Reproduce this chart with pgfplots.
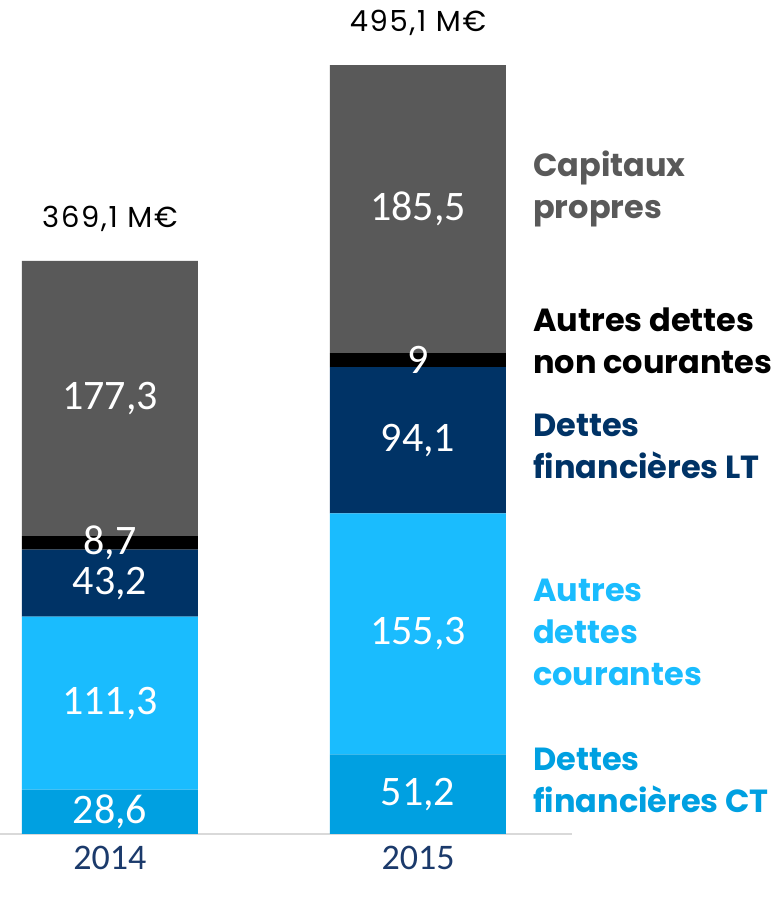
\documentclass[border=0pt]{standalone}
\usepackage{pgfplots}
\pgfplotsset{compat=1.18}
\usepackage{fontspec}
\setmainfont{Carlito}
\newfontfamily\gothic{Poppins}
\newfontfamily\gothicwide{Poppins}[LetterSpace=6]

\definecolor{ctblue}{HTML}{00A0E1}
\definecolor{acblue}{HTML}{1ABCFE}
\definecolor{ltnavy}{HTML}{003366}
\definecolor{capgray}{HTML}{595959}
\definecolor{axgray}{HTML}{D9D9D9}
\definecolor{yearblue}{HTML}{1B3A6B}

\tikzset{
    num/.style={text=white, font=\fontsize{42}{42}\selectfont, anchor=center},
    tot/.style={font=\gothicwide\fontsize{29}{29}\selectfont, anchor=center, yshift=42pt},
}

\begin{document}
\begin{tikzpicture}
\begin{axis}[
    ybar stacked, bar width=176pt,
    scale only axis, width=572pt, height=834pt,
    xmin=-0.357, xmax=1.5, ymin=0, ymax=537,
    axis x line=bottom, axis y line=none,
    x axis line style={draw=axgray, line width=2pt, -},
    xtick={0,1}, xticklabels={2014,2015}, major tick length=0pt,
    xticklabel style={font=\fontsize{36}{36}\selectfont, text=yearblue, yshift=-9pt},
    clip=false,
]
\addplot[fill=ctblue, draw=none] coordinates {(0,28.6) (1,51.2)};
\addplot[fill=acblue, draw=none] coordinates {(0,111.3) (1,155.3)};
\addplot[fill=ltnavy, draw=none] coordinates {(0,43.2) (1,94.1)};
\addplot[fill=black, draw=none] coordinates {(0,8.7) (1,9)};
\addplot[fill=capgray, draw=none] coordinates {(0,177.3) (1,185.5)};

% centres of the segments and tops of the bars
\coordinate (a1) at (axis cs:0,14.3);
\coordinate (a2) at (axis cs:0,84.25);
\coordinate (a3) at (axis cs:0,161.5);
\coordinate (a4) at (axis cs:0,187.45);
\coordinate (a5) at (axis cs:0,280.45);
\coordinate (b1) at (axis cs:1,25.6);
\coordinate (b2) at (axis cs:1,128.85);
\coordinate (b3) at (axis cs:1,253.55);
\coordinate (b4) at (axis cs:1,305.1);
\coordinate (b5) at (axis cs:1,402.35);
\coordinate (ta) at (axis cs:0,369.1);
\coordinate (tb) at (axis cs:1,495.1);
\end{axis}

\node[num] at (a1) {28,6};
\node[num] at (a2) {111,3};
\node[num] at (a3) {43,2};
\node[num] at (a4) {8,7};
\node[num] at (a5) {177,3};
\node[num] at (b1) {51,2};
\node[num] at (b2) {155,3};
\node[num] at (b3) {94,1};
\node[num] at (b4) {9};
\node[num] at (b5) {185,5};
\node[tot] at (ta) {369,1 M€};
\node[tot] at (tb) {495,1 M€};

% series names on the right
\begin{scope}[every node/.style={anchor=west, align=left, inner sep=0pt,
    font=\gothic\bfseries\fontsize{32}{42}\selectfont}]
\node[text=capgray] at (533pt,645pt) {Capitaux\\propres};
\node[text=black] at (533pt,493pt) {Autres dettes\\non courantes};
\node[text=ltnavy] at (533pt,388pt) {Dettes\\financières LT};
\node[text=acblue] at (533pt,202pt) {Autres\\dettes\\courantes};
\node[text=ctblue] at (533pt,54pt) {Dettes\\financières CT};
\end{scope}

\pgfresetboundingbox
\path[use as bounding box] (0pt,-67pt) rectangle (782pt,834pt);
\end{tikzpicture}
\end{document}
